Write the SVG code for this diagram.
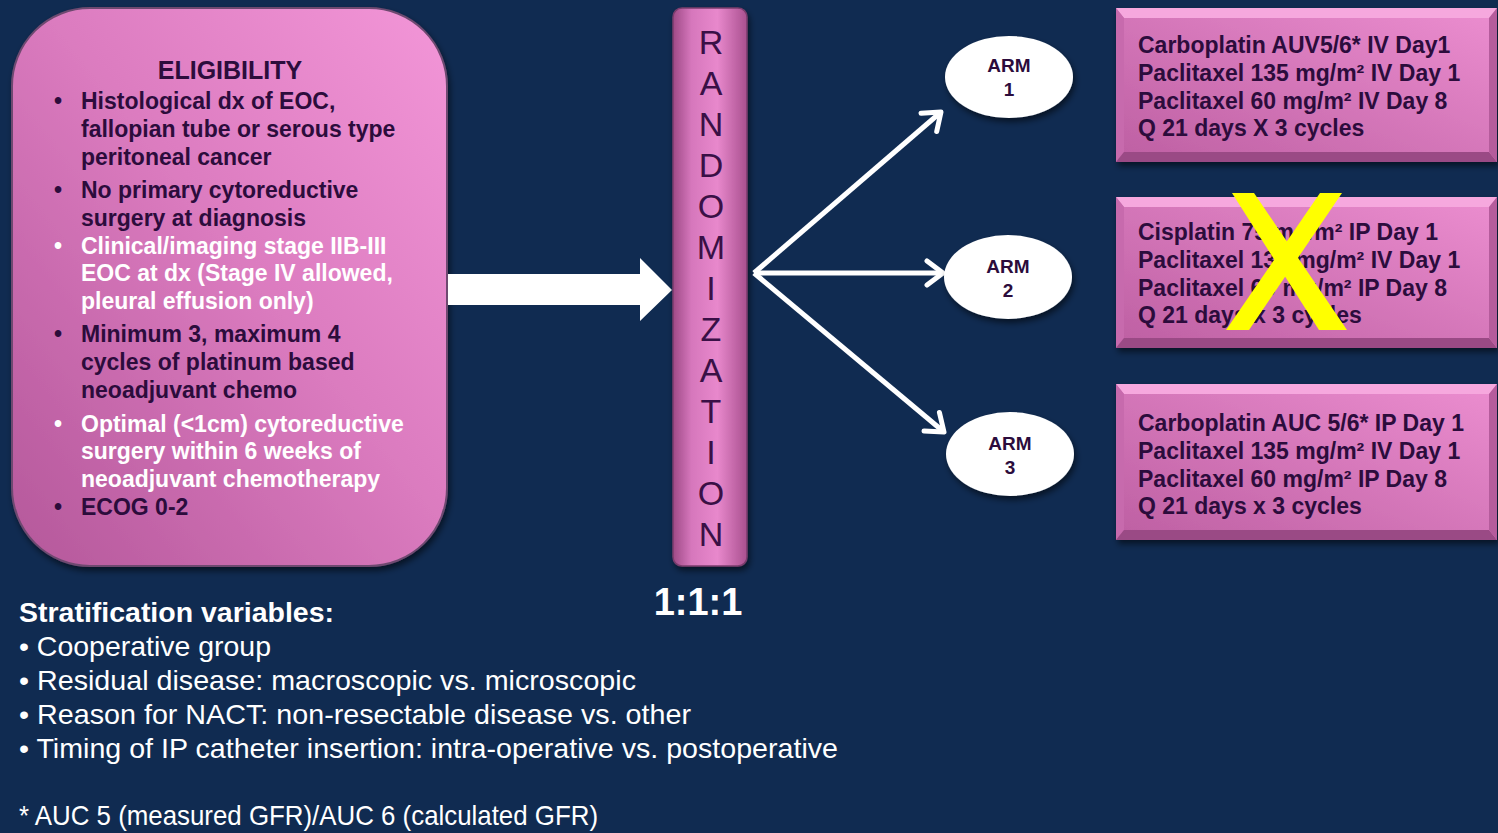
<svg xmlns="http://www.w3.org/2000/svg" width="1498" height="833" viewBox="0 0 1498 833">
<defs>
<linearGradient id="gElig" x1="0" y1="1" x2="1" y2="0">
<stop offset="0" stop-color="#b4579a"/>
<stop offset="0.55" stop-color="#dc7cc0"/>
<stop offset="1" stop-color="#f396d8"/>
</linearGradient>
<linearGradient id="gBar" x1="0" y1="0" x2="1" y2="0">
<stop offset="0" stop-color="#9e4a86"/>
<stop offset="0.25" stop-color="#d677bc"/>
<stop offset="0.6" stop-color="#e888cc"/>
<stop offset="1" stop-color="#a9508f"/>
</linearGradient>
<linearGradient id="gBox" x1="0" y1="1" x2="1" y2="0">
<stop offset="0" stop-color="#bd5fa2"/>
<stop offset="1" stop-color="#ec8ed0"/>
</linearGradient>
<filter id="sh" x="-10%" y="-10%" width="130%" height="130%">
<feDropShadow dx="2" dy="4" stdDeviation="3" flood-color="#000" flood-opacity="0.55"/>
</filter>
<marker id="ah" markerWidth="30" markerHeight="30" refX="22" refY="15" orient="auto" markerUnits="userSpaceOnUse">
<path d="M6,3 L22,15 L6,27" fill="none" stroke="#fff" stroke-width="5" stroke-linecap="round" stroke-linejoin="round"/>
</marker>
</defs>
<style>
.dk{fill:#2c0c3c;font-family:"Liberation Sans",Arial,sans-serif;font-weight:bold}
.wh{fill:#ffffff;font-family:"Liberation Sans",Arial,sans-serif;font-weight:bold}
.el{font-size:23px}
.rx{font-size:23px}
.arm{font-size:19px;text-anchor:middle}
.ltr{fill:#3a1046;font-family:"Liberation Sans",Arial,sans-serif;font-size:34px;text-anchor:middle}
.st{fill:#ffffff;font-family:"Liberation Sans",Arial,sans-serif;font-size:28px}
.conn{stroke:#fff;stroke-width:5;fill:none;marker-end:url(#ah)}
</style>
<rect width="1498" height="833" fill="#102b51"/>

<g id="eligibility">
<rect x="12" y="8" width="435" height="558" rx="78" fill="url(#gElig)" stroke="#6e4a70" stroke-width="2" filter="url(#sh)"/>
<text class="dk" x="230" y="79" font-size="25" text-anchor="middle">ELIGIBILITY</text>
<g class="el">
<text class="dk" x="54" y="109">•</text>
<text class="dk" x="81" y="109">Histological dx of EOC,</text>
<text class="dk" x="81" y="137">fallopian tube or serous type</text>
<text class="dk" x="81" y="165">peritoneal cancer</text>
<text class="dk" x="54" y="198">•</text>
<text class="dk" x="81" y="198">No  primary cytoreductive</text>
<text class="dk" x="81" y="226">surgery at diagnosis</text>
<text class="wh" x="54" y="254">•</text>
<text class="wh" x="81" y="254">Clinical/imaging  stage IIB-III</text>
<text class="wh" x="81" y="281">EOC at dx (Stage IV allowed,</text>
<text class="wh" x="81" y="309">pleural effusion only)</text>
<text class="dk" x="54" y="342">•</text>
<text class="dk" x="81" y="342">Minimum 3, maximum 4</text>
<text class="dk" x="81" y="370">cycles of platinum based</text>
<text class="dk" x="81" y="398">neoadjuvant chemo</text>
<text class="wh" x="54" y="432">•</text>
<text class="wh" x="81" y="432">Optimal (&lt;1cm) cytoreductive</text>
<text class="wh" x="81" y="459">surgery within 6 weeks of</text>
<text class="wh" x="81" y="487">neoadjuvant chemotherapy</text>
<text class="dk" x="54" y="515">•</text>
<text class="dk" x="81" y="515">ECOG 0-2</text>
</g>
</g>

<g id="big-arrow">
<polygon points="448,274 640,274 640,258 672,290 640,321 640,305 448,305" fill="#ffffff"/>
</g>

<g id="randomization">
<rect x="673" y="8" width="74" height="558" rx="9" fill="url(#gBar)" stroke="#7a3c6c" stroke-width="1.5" filter="url(#sh)"/>
<text class="ltr" x="711" y="54">R</text>
<text class="ltr" x="711" y="95">A</text>
<text class="ltr" x="711" y="136">N</text>
<text class="ltr" x="711" y="177">D</text>
<text class="ltr" x="711" y="218">O</text>
<text class="ltr" x="711" y="259">M</text>
<text class="ltr" x="711" y="300">I</text>
<text class="ltr" x="711" y="341">Z</text>
<text class="ltr" x="711" y="382">A</text>
<text class="ltr" x="711" y="423">T</text>
<text class="ltr" x="711" y="464">I</text>
<text class="ltr" x="711" y="505">O</text>
<text class="ltr" x="711" y="546">N</text>
</g>

<g id="ratio">
<text class="wh" x="698" y="615" font-size="38" text-anchor="middle">1:1:1</text>
</g>

<g id="connectors">
<line class="conn" x1="754" y1="273" x2="941" y2="112"/>
<line class="conn" x1="754" y1="273" x2="943" y2="273"/>
<line class="conn" x1="754" y1="273" x2="944" y2="432"/>
</g>

<g id="arm1">
<ellipse cx="1009" cy="77" rx="64" ry="41" fill="#ffffff" filter="url(#sh)"/>
<text class="dk arm" x="1009" y="72">ARM</text>
<text class="dk arm" x="1009" y="96">1</text>
</g>
<g id="arm2">
<ellipse cx="1008" cy="277" rx="64" ry="42" fill="#ffffff" filter="url(#sh)"/>
<text class="dk arm" x="1008" y="273">ARM</text>
<text class="dk arm" x="1008" y="297">2</text>
</g>
<g id="arm3">
<ellipse cx="1010" cy="454" rx="64" ry="42" fill="#ffffff" filter="url(#sh)"/>
<text class="dk arm" x="1010" y="450">ARM</text>
<text class="dk arm" x="1010" y="474">3</text>
</g>

<g id="regimen1">
<rect x="1116" y="8" width="381" height="154" fill="url(#gBox)" filter="url(#sh)"/>
<polygon points="1116,8 1497,8 1489,18 1124,18" fill="#f6a8de"/>
<polygon points="1116,8 1124,18 1124,152 1116,162" fill="#c76aad"/>
<polygon points="1116,162 1124,152 1489,152 1497,162" fill="#9a4a85"/>
<polygon points="1497,8 1497,162 1489,152 1489,18" fill="#b55c9c"/>
<text class="dk rx" x="1138" y="53">Carboplatin AUV5/6* IV Day1</text>
<text class="dk rx" x="1138" y="81">Paclitaxel 135 mg/m² IV Day 1</text>
<text class="dk rx" x="1138" y="109">Paclitaxel 60 mg/m² IV Day 8</text>
<text class="dk rx" x="1138" y="136">Q 21 days X 3 cycles</text>
</g>

<g id="regimen2">
<rect x="1116" y="197" width="381" height="151" fill="url(#gBox)" filter="url(#sh)"/>
<polygon points="1116,197 1497,197 1489,207 1124,207" fill="#f6a8de"/>
<polygon points="1116,197 1124,207 1124,338 1116,348" fill="#c76aad"/>
<polygon points="1116,348 1124,338 1489,338 1497,348" fill="#9a4a85"/>
<polygon points="1497,197 1497,348 1489,338 1489,207" fill="#b55c9c"/>
<text class="dk rx" x="1138" y="240">Cisplatin 75 mg/m² IP Day 1</text>
<text class="dk rx" x="1138" y="268">Paclitaxel 135 mg/m² IV Day 1</text>
<text class="dk rx" x="1138" y="296">Paclitaxel 60 mg/m² IP Day 8</text>
<text class="dk rx" x="1138" y="323">Q 21 days x 3 cycles</text>
<polygon points="1232,193 1254,193 1347,330 1319,330" fill="#ffff00"/>
<polygon points="1320,193 1342,193 1249,330 1226,330" fill="#ffff00"/>
</g>

<g id="regimen3">
<rect x="1116" y="384" width="381" height="156" fill="url(#gBox)" filter="url(#sh)"/>
<polygon points="1116,384 1497,384 1489,394 1124,394" fill="#f6a8de"/>
<polygon points="1116,384 1124,394 1124,530 1116,540" fill="#c76aad"/>
<polygon points="1116,540 1124,530 1489,530 1497,540" fill="#9a4a85"/>
<polygon points="1497,384 1497,540 1489,530 1489,394" fill="#b55c9c"/>
<text class="dk rx" x="1138" y="431">Carboplatin AUC 5/6* IP Day 1</text>
<text class="dk rx" x="1138" y="459">Paclitaxel 135 mg/m² IV Day 1</text>
<text class="dk rx" x="1138" y="487">Paclitaxel 60 mg/m² IP Day 8</text>
<text class="dk rx" x="1138" y="514">Q 21 days x 3 cycles</text>
</g>

<g id="stratification">
<text class="st" x="19" y="622" font-weight="bold" textLength="315" lengthAdjust="spacingAndGlyphs">Stratification variables:</text>
<text class="st" x="19" y="656" textLength="252" lengthAdjust="spacingAndGlyphs">• Cooperative group</text>
<text class="st" x="19" y="690" textLength="617" lengthAdjust="spacingAndGlyphs">• Residual disease: macroscopic vs. microscopic</text>
<text class="st" x="19" y="724" textLength="672" lengthAdjust="spacingAndGlyphs">• Reason for NACT: non-resectable disease vs. other</text>
<text class="st" x="19" y="758" textLength="819" lengthAdjust="spacingAndGlyphs">• Timing of IP catheter insertion: intra-operative vs. postoperative</text>
<text class="st" x="19" y="825" font-size="25" textLength="579" lengthAdjust="spacingAndGlyphs">* AUC 5 (measured GFR)/AUC 6 (calculated GFR)</text>
</g>
</svg>
